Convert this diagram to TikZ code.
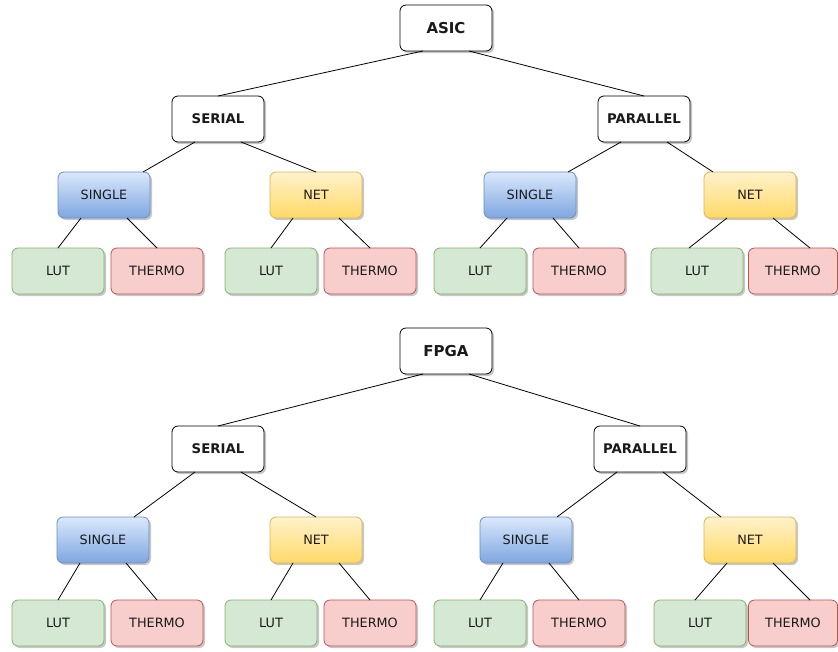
\documentclass[tikz,border=0pt]{standalone}
\usepackage{fontspec}
\setmainfont{DejaVu Sans}
\usetikzlibrary{shadows}
\definecolor{bluetop}{HTML}{DAE8FC}
\definecolor{bluebot}{HTML}{7EA6E0}
\definecolor{bluestroke}{HTML}{6C8EBF}
\definecolor{yeltop}{HTML}{FFF2CC}
\definecolor{yelbot}{HTML}{FFD966}
\definecolor{yelstroke}{HTML}{D6B656}
\definecolor{grnfill}{HTML}{D5E8D4}
\definecolor{grnstroke}{HTML}{82B366}
\definecolor{redfill}{HTML}{F8CECC}
\definecolor{redstroke}{HTML}{B85450}
\definecolor{txt}{HTML}{1A1A1A}
\tikzset{
  box/.style={draw, rounded corners=6pt, minimum width=92pt, minimum height=46pt,
    inner sep=0pt, outer sep=0pt, line width=0.8pt, text=txt,
    font=\fontsize{12.8}{15}\selectfont,
    drop shadow={shadow xshift=2pt, shadow yshift=-2pt, opacity=0.22, fill=black}},
  rootbox/.style={box, draw=black, fill=white, font=\fontsize{15}{18}\selectfont\bfseries},
  modebox/.style={box, draw=black, fill=white, font=\fontsize{13.3}{16}\selectfont\bfseries},
  singlebox/.style={box, draw=bluestroke, top color=bluetop, bottom color=bluebot},
  netbox/.style={box, draw=yelstroke, top color=yeltop, bottom color=yelbot},
  lutbox/.style={box, draw=grnstroke, fill=grnfill},
  thermobox/.style={box, draw=redstroke, fill=redfill},
  edge/.style={draw=black, line width=0.8pt}
}
\begin{document}
\begin{tikzpicture}[x=1pt, y=-1pt]
\useasboundingbox (0,0) rectangle (838,651);
% ---------- ASIC tree ----------
\node[rootbox] (asic) at (446,28) {ASIC};
\node[modebox] (serT) at (218,119) {SERIAL};
\node[modebox] (parT) at (644,119) {PARALLEL};
\node[singlebox] (sinT1) at (104,195) {SINGLE};
\node[netbox] (netT1) at (316,195) {NET};
\node[singlebox] (sinT2) at (530,195) {SINGLE};
\node[netbox] (netT2) at (750,195) {NET};
\node[lutbox] (lutT1) at (58,271) {LUT};
\node[thermobox] (thT1) at (157,271) {THERMO};
\node[lutbox] (lutT2) at (271,271) {LUT};
\node[thermobox] (thT2) at (370,271) {THERMO};
\node[lutbox] (lutT3) at (480,271) {LUT};
\node[thermobox] (thT3) at (579,271) {THERMO};
\node[lutbox] (lutT4) at (697,271) {LUT};
\node[thermobox, minimum width=89pt] (thT4) at (793,271) {THERMO};
% ---------- FPGA tree ----------
\node[rootbox] (fpga) at (446,351) {FPGA};
\node[modebox] (serB) at (218,449) {SERIAL};
\node[modebox] (parB) at (640,449) {PARALLEL};
\node[singlebox] (sinB1) at (103,540) {SINGLE};
\node[netbox] (netB1) at (316,540) {NET};
\node[singlebox] (sinB2) at (526,540) {SINGLE};
\node[netbox] (netB2) at (750,540) {NET};
\node[lutbox] (lutB1) at (58,623) {LUT};
\node[thermobox] (thB1) at (157,623) {THERMO};
\node[lutbox] (lutB2) at (271,623) {LUT};
\node[thermobox] (thB2) at (370,623) {THERMO};
\node[lutbox] (lutB3) at (480,623) {LUT};
\node[thermobox] (thB3) at (579,623) {THERMO};
\node[lutbox] (lutB4) at (700,623) {LUT};
\node[thermobox, minimum width=89pt] (thB4) at (793,623) {THERMO};
% ---------- edges ASIC ----------
\draw[edge] ([xshift=-23pt]asic.south) -- (serT.north);
\draw[edge] ([xshift=23pt]asic.south) -- (parT.north);
\draw[edge] ([xshift=-23pt]serT.south) -- ([xshift=39pt]sinT1.north);
\draw[edge] ([xshift=23pt]serT.south) -- (netT1.north);
\draw[edge] ([xshift=-23pt]parT.south) -- ([xshift=38pt]sinT2.north);
\draw[edge] ([xshift=23pt]parT.south) -- ([xshift=-37pt]netT2.north);
\draw[edge] ([xshift=-23pt]sinT1.south) -- (lutT1.north);
\draw[edge] ([xshift=23pt]sinT1.south) -- (thT1.north);
\draw[edge] ([xshift=-23pt]netT1.south) -- (lutT2.north);
\draw[edge] ([xshift=23pt]netT1.south) -- (thT2.north);
\draw[edge] ([xshift=-23pt]sinT2.south) -- (lutT3.north);
\draw[edge] ([xshift=23pt]sinT2.south) -- (thT3.north);
\draw[edge] ([xshift=-23pt]netT2.south) -- ([xshift=-8pt]lutT4.north);
\draw[edge] ([xshift=23pt]netT2.south) -- ([xshift=17pt]thT4.north);
% ---------- edges FPGA ----------
\draw[edge] ([xshift=-23pt]fpga.south) -- (serB.north);
\draw[edge] ([xshift=23pt]fpga.south) -- (parB.north);
\draw[edge] ([xshift=-23pt]serB.south) -- ([xshift=31pt]sinB1.north);
\draw[edge] ([xshift=23pt]serB.south) -- (netB1.north);
\draw[edge] ([xshift=-23pt]parB.south) -- ([xshift=31pt]sinB2.north);
\draw[edge] ([xshift=23pt]parB.south) -- ([xshift=-29pt]netB2.north);
\draw[edge] ([xshift=-23pt]sinB1.south) -- (lutB1.north);
\draw[edge] ([xshift=23pt]sinB1.south) -- (thB1.north);
\draw[edge] ([xshift=-23pt]netB1.south) -- (lutB2.north);
\draw[edge] ([xshift=23pt]netB1.south) -- (thB2.north);
\draw[edge] ([xshift=-23pt]sinB2.south) -- (lutB3.north);
\draw[edge] ([xshift=23pt]sinB2.south) -- (thB3.north);
\draw[edge] ([xshift=-23pt]netB2.south) -- ([xshift=-5pt]lutB4.north);
\draw[edge] ([xshift=23pt]netB2.south) -- ([xshift=17pt]thB4.north);
\end{tikzpicture}
\end{document}
